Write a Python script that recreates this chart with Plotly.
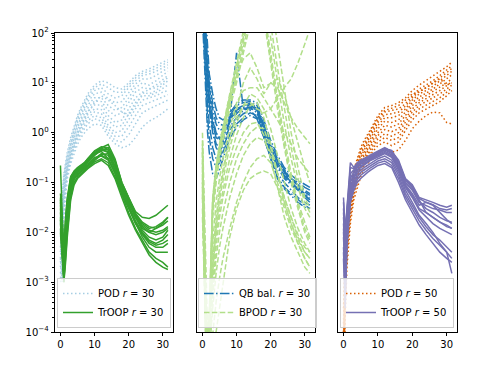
import plotly.graph_objects as go

# time samples shared by all trajectories
T = [0, 0.5, 1, 1.5, 2, 3, 4, 5, 6, 7, 8, 10, 12, 14, 16, 18, 20, 22, 24, 26, 28, 30, 31.5]

# panel 1: POD r=30 (dotted) and TrOOP r=30 (solid)
pod30 = [
    [2e-2, 6e-2, 0.15, 0.25, 0.4, 0.8, 1.4, 2.2, 3.2, 4.5, 6, 9, 11, 10, 8, 7.5, 10, 14, 17, 19, 22, 26, 29],
    [1e-2, 4e-2, 0.12, 0.2, 0.3, 0.6, 1.1, 1.8, 2.6, 3.6, 4.8, 7, 8, 6, 5, 5.5, 8, 11, 14, 15, 17, 20, 23],
    [5e-3, 2e-2, 0.08, 0.15, 0.25, 0.5, 0.9, 1.4, 2, 2.8, 3.6, 5, 5, 3.5, 2.8, 3.2, 5, 8, 10, 9, 11, 14, 17],
    [2.5e-3, 1.2e-2, 0.06, 0.12, 0.2, 0.4, 0.7, 1.1, 1.6, 2.1, 2.7, 3.6, 3.6, 2.2, 1.6, 1.8, 3, 5, 6.5, 6, 7, 9, 11],
    [1.5e-3, 3e-3, 0.04, 0.1, 0.17, 0.33, 0.55, 0.85, 1.2, 1.6, 2, 2.6, 2.4, 1.4, 1.0, 1.1, 1.8, 3, 4.5, 5, 5.5, 6.5, 7],
    [1e-3, 1.5e-3, 0.03, 0.08, 0.14, 0.28, 0.45, 0.7, 0.95, 1.2, 1.5, 1.9, 1.7, 1.0, 0.7, 0.65, 0.9, 1.5, 2.5, 3, 3.5, 4, 4.5],
    [3e-3, 1e-3, 0.02, 0.06, 0.12, 0.24, 0.38, 0.58, 0.8, 1.0, 1.2, 1.5, 1.4, 0.85, 0.6, 0.5, 0.55, 0.8, 1.3, 1.7, 2, 2.5, 3],
    [3e-3, 1e-2, 0.05, 0.1, 0.18, 0.35, 0.6, 0.95, 1.4, 1.9, 2.5, 4, 5.5, 4.5, 3.5, 2.6, 2.2, 3.5, 6, 7.5, 8, 10, 13],
    [8e-3, 3e-2, 0.1, 0.18, 0.28, 0.55, 1, 1.6, 2.3, 3.2, 4.2, 6, 6.5, 4.8, 4, 4.2, 6.5, 9.5, 12, 12, 14, 17, 20],
    [4e-3, 1.5e-2, 0.07, 0.13, 0.22, 0.45, 0.8, 1.25, 1.8, 2.4, 3.1, 4.3, 4.2, 2.8, 2.2, 2.5, 4, 6.5, 8, 7.5, 9, 11.5, 14],
    [2e-3, 6e-3, 0.05, 0.11, 0.19, 0.37, 0.62, 0.95, 1.35, 1.8, 2.3, 3, 2.9, 1.8, 1.3, 1.4, 2.4, 4, 5.5, 5.5, 6.3, 7.8, 9],
    [1.2e-3, 2e-3, 0.035, 0.09, 0.15, 0.3, 0.5, 0.78, 1.05, 1.4, 1.75, 2.2, 2, 1.2, 0.85, 0.85, 1.3, 2.2, 3.5, 4, 4.5, 5.2, 5.8],
    [1.5e-2, 5e-2, 0.13, 0.22, 0.35, 0.7, 1.25, 2, 2.9, 4, 5.4, 8, 9.5, 8, 6.5, 6.5, 9, 12.5, 15.5, 17, 19.5, 23, 26],
]
troop30 = [
    [0.22, 0.02, 3e-3, 0.02, 0.05, 0.13, 0.17, 0.2, 0.22, 0.25, 0.3, 0.42, 0.5, 0.58, 0.3, 0.1, 0.05, 0.026, 0.02, 0.019, 0.022, 0.028, 0.035],
    [0.03, 8e-3, 1.5e-3, 6e-3, 0.02, 0.08, 0.14, 0.17, 0.19, 0.21, 0.25, 0.35, 0.45, 0.42, 0.22, 0.08, 0.04, 0.02, 0.012, 0.01, 0.012, 0.015, 0.02],
    [0.02, 5e-3, 1e-3, 4e-3, 0.015, 0.06, 0.12, 0.15, 0.17, 0.19, 0.22, 0.3, 0.38, 0.35, 0.18, 0.07, 0.035, 0.017, 0.01, 0.007, 0.006, 0.007, 0.009],
    [0.05, 0.01, 2.5e-3, 0.01, 0.03, 0.1, 0.15, 0.18, 0.2, 0.22, 0.27, 0.38, 0.42, 0.3, 0.15, 0.06, 0.03, 0.015, 0.008, 0.005, 0.004, 0.004, 0.004],
    [0.012, 3e-3, 1.2e-3, 3e-3, 0.01, 0.05, 0.1, 0.13, 0.15, 0.17, 0.2, 0.26, 0.3, 0.25, 0.13, 0.055, 0.025, 0.012, 0.007, 0.004, 0.003, 0.0025, 0.002],
    [0.04, 0.015, 4e-3, 0.015, 0.04, 0.12, 0.16, 0.19, 0.21, 0.24, 0.29, 0.4, 0.48, 0.45, 0.25, 0.09, 0.045, 0.022, 0.014, 0.011, 0.01, 0.011, 0.013],
    [0.025, 6e-3, 2e-3, 8e-3, 0.025, 0.09, 0.13, 0.16, 0.18, 0.2, 0.23, 0.32, 0.34, 0.28, 0.16, 0.065, 0.03, 0.015, 0.009, 0.006, 0.005, 0.005, 0.006],
    [0.015, 4e-3, 1.5e-3, 5e-3, 0.018, 0.07, 0.12, 0.14, 0.16, 0.18, 0.21, 0.28, 0.36, 0.38, 0.2, 0.075, 0.038, 0.02, 0.011, 0.008, 0.007, 0.008, 0.011],
    [0.035, 0.012, 3e-3, 0.012, 0.035, 0.11, 0.155, 0.185, 0.205, 0.23, 0.28, 0.39, 0.46, 0.4, 0.2, 0.085, 0.042, 0.021, 0.013, 0.01, 0.009, 0.01, 0.012],
    [0.018, 4.5e-3, 1.2e-3, 4.5e-3, 0.016, 0.065, 0.115, 0.145, 0.165, 0.185, 0.215, 0.29, 0.35, 0.3, 0.17, 0.068, 0.032, 0.016, 0.0095, 0.0065, 0.0055, 0.006, 0.007],
    [0.045, 0.012, 2e-3, 0.009, 0.028, 0.095, 0.145, 0.175, 0.195, 0.215, 0.26, 0.36, 0.44, 0.5, 0.27, 0.095, 0.048, 0.024, 0.015, 0.012, 0.013, 0.016, 0.02],
    [0.01, 2.5e-3, 1e-3, 2.5e-3, 0.008, 0.045, 0.09, 0.12, 0.14, 0.16, 0.19, 0.24, 0.28, 0.22, 0.12, 0.05, 0.022, 0.011, 0.006, 0.0035, 0.0025, 0.002, 0.0018],
    [0.06, 0.018, 5e-3, 0.018, 0.045, 0.13, 0.165, 0.195, 0.215, 0.245, 0.3, 0.43, 0.52, 0.5, 0.28, 0.1, 0.05, 0.024, 0.016, 0.013, 0.012, 0.014, 0.017],
]

# panel 2: QB balanced r=30 (dash-dot) and BPOD r=30 (dashed)
qbbal30 = [
    [1000, 200, 50, 15, 6, 2, 1, 0.8, 1, 1.5, 2, 3, 3.5, 3.8, 3, 1.2, 0.5, 0.25, 0.15, 0.1, 0.08, 0.06, 0.05],
    [500, 100, 20, 6, 3, 1, 0.5, 0.4, 0.6, 0.9, 1.3, 2, 2.8, 3.2, 2.5, 1, 0.4, 0.2, 0.12, 0.09, 0.07, 0.05, 0.04],
    [2000, 400, 80, 25, 10, 4, 2, 1.5, 1.4, 1.6, 2.2, 3.5, 4, 4.2, 3.5, 1.5, 0.6, 0.3, 0.18, 0.12, 0.1, 0.08, 0.07],
    [300, 50, 8, 2, 0.8, 0.3, 0.2, 0.25, 0.4, 0.6, 0.9, 1.5, 2, 2.5, 2.2, 0.9, 0.35, 0.15, 0.1, 0.07, 0.05, 0.04, 0.035],
    [800, 150, 30, 10, 4, 1.5, 0.8, 0.7, 0.9, 1.3, 1.8, 40, 3, 3, 2.8, 1.1, 0.45, 0.22, 0.14, 0.1, 0.075, 0.055, 0.045],
    [1500, 300, 60, 20, 8, 3, 1.5, 1.1, 1.2, 1.5, 1.9, 2.6, 3, 3.3, 2.8, 1.3, 0.55, 0.28, 0.16, 0.11, 0.09, 0.07, 0.06],
    [400, 80, 15, 4, 1.5, 0.5, 0.3, 0.3, 0.5, 0.75, 1.1, 1.8, 2.4, 2.8, 2, 0.8, 0.3, 0.13, 0.08, 0.06, 0.045, 0.035, 0.03],
    [3000, 700, 150, 40, 15, 6, 3, 2, 1.8, 2, 2.5, 3.8, 4.5, 4.5, 4, 1.8, 0.7, 0.35, 0.2, 0.14, 0.11, 0.09, 0.08],
    [600, 120, 25, 8, 3.5, 1.2, 0.6, 0.5, 0.7, 1.1, 1.6, 2.4, 3.2, 3.6, 2.8, 1.1, 0.45, 0.22, 0.13, 0.095, 0.075, 0.055, 0.045],
    [1200, 250, 45, 12, 5, 1.8, 0.9, 0.75, 0.85, 1.2, 1.7, 2.8, 3.4, 3.9, 3.2, 1.4, 0.5, 0.27, 0.17, 0.12, 0.09, 0.065, 0.055],
    [200, 30, 4, 1, 0.4, 0.15, 0.12, 0.18, 0.3, 0.5, 0.75, 1.3, 1.8, 2.2, 1.9, 0.8, 0.3, 0.12, 0.075, 0.055, 0.04, 0.032, 0.03],
]
bpod30 = [
    [0.5, 0.01, 3e-4, 5e-5, 1e-4, 0.03, 0.15, 0.4, 0.9, 1.8, 4, 15, 60, 300, 800, 300, 40, 5, 0.8, 0.15, 0.04, 0.015, 0.008],
    [0.3, 5e-3, 1e-4, 3e-5, 6e-5, 0.02, 0.1, 0.3, 0.7, 1.4, 3, 10, 40, 150, 400, 200, 25, 3, 0.5, 0.1, 0.03, 0.01, 0.006],
    [1, 0.03, 8e-4, 1e-4, 2e-4, 0.05, 0.22, 0.6, 1.3, 2.6, 6, 25, 100, 500, 1000, 600, 80, 10, 1.5, 0.3, 0.08, 0.03, 0.02],
    [0.1, 2e-3, 5e-5, 2e-5, 6e-5, 1e-3, 8e-3, 0.03, 0.07, 0.15, 0.3, 0.9, 2, 3.5, 4, 2, 0.6, 0.15, 0.04, 0.015, 0.006, 0.003, 0.002],
    [0.05, 1e-3, 3e-5, 1e-5, 3e-5, 5e-4, 3e-3, 0.01, 0.025, 0.05, 0.1, 0.3, 0.6, 1, 1.3, 1.2, 0.5, 0.15, 0.05, 0.02, 0.008, 0.004, 0.003],
    [0.02, 5e-4, 1e-5, 5e-6, 1e-5, 6e-5, 1e-4, 3e-4, 1e-3, 3e-3, 8e-3, 0.03, 0.07, 0.12, 0.15, 0.17, 0.15, 0.08, 0.03, 0.012, 0.006, 0.003, 0.002],
    [0.2, 4e-3, 1e-4, 4e-5, 1.5e-4, 3e-3, 0.02, 0.07, 0.18, 0.4, 0.8, 2, 3.5, 4, 3, 2.5, 3, 5, 8, 12, 25, 60, 120],
    [0.4, 8e-3, 2e-4, 6e-5, 2.5e-4, 0.04, 0.2, 0.5, 1.1, 2.2, 4.5, 14, 30, 40, 20, 8, 10, 12, 6, 2, 0.6, 0.2, 0.1],
    [0.08, 1.5e-3, 4e-5, 1.5e-5, 4e-5, 7e-4, 5e-3, 0.02, 0.05, 0.1, 0.2, 0.5, 1, 1.5, 1.6, 0.9, 0.3, 0.08, 0.02, 0.008, 0.004, 0.002, 0.0015],
    [0.6, 0.015, 4e-4, 8e-5, 1.5e-4, 0.04, 0.18, 0.5, 1.1, 2.2, 5, 20, 80, 400, 1500, 2000, 500, 60, 8, 1, 0.2, 0.05, 0.03],
    [0.15, 3e-3, 8e-5, 3e-5, 1e-4, 2e-3, 0.015, 0.06, 0.15, 0.35, 0.7, 3, 10, 20, 12, 6, 10, 8, 4, 2, 1.2, 0.8, 0.6],
    [0.25, 6e-3, 1.5e-4, 5e-5, 1.2e-4, 6e-3, 0.04, 0.12, 0.3, 0.6, 1.2, 4, 7, 8, 8, 5, 3, 1.8, 1, 0.6, 0.3, 0.2, 0.15],
    [0.03, 8e-4, 2e-5, 8e-6, 2e-5, 1e-4, 4e-4, 1.2e-3, 3e-3, 6e-3, 0.012, 0.04, 0.1, 0.2, 0.3, 0.35, 0.25, 0.1, 0.04, 0.015, 0.007, 0.004, 0.003],
    [0.4, 0.012, 3.5e-4, 6e-5, 1.2e-4, 0.025, 0.12, 0.35, 0.8, 1.6, 3.5, 12, 50, 220, 600, 250, 30, 4, 0.6, 0.12, 0.035, 0.012, 0.007],
    [0.7, 0.02, 5e-4, 9e-5, 1.8e-4, 0.045, 0.2, 0.55, 1.2, 2.4, 5.5, 22, 90, 450, 1200, 900, 150, 20, 3, 0.5, 0.12, 0.04, 0.025],
    [0.12, 2.5e-3, 7e-5, 2.5e-5, 8e-5, 1.5e-3, 0.012, 0.045, 0.11, 0.25, 0.5, 1.5, 3.5, 6, 5, 3, 1.2, 0.35, 0.1, 0.03, 0.012, 0.006, 0.004],
    [0.06, 1.2e-3, 3.5e-5, 1.2e-5, 3.5e-5, 3e-4, 1.5e-3, 5e-3, 0.012, 0.025, 0.05, 0.15, 0.35, 0.6, 0.8, 0.7, 0.4, 0.15, 0.05, 0.02, 0.009, 0.005, 0.004],
]

# panel 3: POD r=50 (dotted) and TrOOP r=50 (solid)
pod50 = [
    [3e-4, 5e-3, 0.02, 0.045, 0.08, 0.18, 0.3, 0.5, 0.7, 0.95, 1.2, 2.2, 3.2, 3.5, 4, 5, 7, 9, 11, 13.5, 17, 21, 26],
    [1e-4, 3e-3, 0.015, 0.035, 0.06, 0.14, 0.25, 0.4, 0.55, 0.75, 1, 1.8, 2.6, 2.8, 3, 3.8, 5.5, 7.5, 9, 11, 14, 18, 22],
    [5e-5, 2e-3, 0.01, 0.025, 0.045, 0.11, 0.2, 0.32, 0.45, 0.6, 0.8, 1.4, 2, 2, 2.2, 3, 4.5, 6, 7, 8.5, 11, 14, 17],
    [2e-5, 1e-3, 7e-3, 0.018, 0.035, 0.09, 0.16, 0.25, 0.35, 0.48, 0.62, 1, 1.4, 1.3, 1.5, 2.2, 3.5, 4.5, 5.5, 6.5, 8, 10, 12],
    [1e-5, 6e-4, 5e-3, 0.013, 0.026, 0.07, 0.13, 0.2, 0.28, 0.38, 0.48, 0.75, 0.95, 0.85, 1, 1.6, 2.6, 3.5, 4.2, 5, 6, 7.5, 9],
    [5e-6, 4e-4, 3.5e-3, 0.01, 0.02, 0.055, 0.1, 0.16, 0.22, 0.3, 0.38, 0.55, 0.65, 0.55, 0.65, 1.1, 1.8, 2.5, 3, 3.6, 4.2, 5.5, 7],
    [3e-6, 2e-4, 2e-3, 7e-3, 0.015, 0.045, 0.08, 0.13, 0.18, 0.24, 0.3, 0.42, 0.48, 0.4, 0.45, 0.7, 1.2, 1.7, 2.2, 2.6, 2.5, 1.6, 1.5],
    [1.5e-4, 4e-3, 0.018, 0.04, 0.07, 0.16, 0.28, 0.45, 0.62, 0.85, 1.1, 2, 2.8, 3.1, 3.5, 4.5, 6, 6.5, 8, 10, 12, 9, 10],
    [8e-5, 2.5e-3, 0.012, 0.03, 0.052, 0.125, 0.22, 0.36, 0.5, 0.68, 0.9, 1.6, 2.3, 2.4, 2.6, 3.4, 5, 6.8, 8, 9.8, 12.5, 16, 19.5],
    [3e-5, 1.4e-3, 8.5e-3, 0.021, 0.04, 0.1, 0.18, 0.28, 0.4, 0.54, 0.7, 1.2, 1.7, 1.6, 1.8, 2.6, 4, 5.2, 6.2, 7.5, 9.5, 12, 14.5],
    [1.5e-5, 8e-4, 6e-3, 0.015, 0.03, 0.08, 0.145, 0.22, 0.31, 0.43, 0.55, 0.88, 1.15, 1.05, 1.2, 1.9, 3, 4, 4.8, 5.7, 7, 8.8, 10.5],
    [7e-6, 5e-4, 4e-3, 0.011, 0.023, 0.062, 0.115, 0.18, 0.25, 0.34, 0.43, 0.65, 0.8, 0.7, 0.8, 1.3, 2.2, 3, 3.6, 4.3, 5, 6.5, 8],
]
troop50 = [
    [0.05, 0.01, 0.03, 0.1, 0.25, 0.2, 0.25, 0.28, 0.3, 0.33, 0.36, 0.42, 0.5, 0.42, 0.28, 0.12, 0.09, 0.05, 0.045, 0.04, 0.035, 0.032, 0.035],
    [0.02, 5e-3, 0.02, 0.05, 0.1, 0.15, 0.2, 0.23, 0.26, 0.29, 0.32, 0.38, 0.45, 0.38, 0.22, 0.1, 0.07, 0.04, 0.035, 0.03, 0.028, 0.025, 0.025],
    [0.01, 2e-3, 0.012, 0.035, 0.07, 0.12, 0.17, 0.2, 0.22, 0.25, 0.28, 0.33, 0.38, 0.32, 0.18, 0.08, 0.05, 0.028, 0.02, 0.015, 0.012, 0.01, 0.009],
    [5e-3, 1e-3, 8e-3, 0.025, 0.05, 0.09, 0.13, 0.16, 0.18, 0.2, 0.22, 0.27, 0.3, 0.25, 0.14, 0.06, 0.035, 0.02, 0.013, 0.009, 0.007, 0.005, 0.004],
    [3e-3, 3e-4, 5e-3, 0.018, 0.04, 0.07, 0.1, 0.12, 0.14, 0.16, 0.18, 0.22, 0.24, 0.2, 0.1, 0.045, 0.025, 0.014, 0.009, 0.006, 0.004, 0.003, 0.0025],
    [0.015, 3e-3, 0.015, 0.04, 0.08, 0.13, 0.18, 0.21, 0.24, 0.27, 0.3, 0.36, 0.42, 0.36, 0.2, 0.09, 0.06, 0.035, 0.04, 0.035, 0.025, 0.018, 0.015],
    [8e-3, 1.5e-3, 0.01, 0.03, 0.06, 0.1, 0.15, 0.18, 0.2, 0.22, 0.25, 0.3, 0.34, 0.28, 0.16, 0.07, 0.04, 0.022, 0.015, 0.01, 0.006, 0.004, 0.0015],
    [0.03, 8e-3, 0.025, 0.07, 0.15, 0.18, 0.22, 0.25, 0.28, 0.3, 0.33, 0.4, 0.47, 0.44, 0.25, 0.11, 0.08, 0.045, 0.025, 0.02, 0.016, 0.014, 0.012],
    [0.04, 9e-3, 0.028, 0.085, 0.2, 0.19, 0.235, 0.265, 0.29, 0.315, 0.345, 0.41, 0.48, 0.43, 0.26, 0.115, 0.085, 0.048, 0.04, 0.036, 0.03, 0.028, 0.03],
    [0.012, 2.5e-3, 0.014, 0.038, 0.075, 0.125, 0.175, 0.205, 0.23, 0.26, 0.29, 0.345, 0.4, 0.34, 0.19, 0.085, 0.055, 0.03, 0.025, 0.02, 0.016, 0.013, 0.012],
    [4e-3, 6e-4, 6.5e-3, 0.021, 0.045, 0.08, 0.115, 0.14, 0.16, 0.18, 0.2, 0.245, 0.27, 0.22, 0.12, 0.052, 0.03, 0.017, 0.011, 0.0075, 0.0055, 0.004, 0.003],
    [0.025, 6e-3, 0.022, 0.06, 0.12, 0.165, 0.21, 0.24, 0.27, 0.295, 0.32, 0.39, 0.46, 0.4, 0.23, 0.1, 0.075, 0.042, 0.03, 0.025, 0.02, 0.017, 0.016],
]

DOT = "1.5px,2.5px"
DASH = "5.5px,2.4px"
DASHDOT = "9.6px,2.4px,1.5px,2.4px"

fig = go.Figure()


def add_family(curves, name, color, dash, ax, legend):
    for i, y in enumerate(curves):
        fig.add_trace(go.Scatter(
            x=T, y=y, mode="lines", name=name, legendgroup=name,
            showlegend=(i == 0), legend=legend,
            line=dict(color=color, width=1.5, dash=dash),
            xaxis="x" + ax, yaxis="y" + ax,
        ))


add_family(pod30, "POD <i>r</i> = 30", "#a6cee3", DOT, "", "legend")
add_family(troop30, "TrOOP <i>r</i> = 30", "#33a02c", "solid", "", "legend")
add_family(qbbal30, "QB bal. <i>r</i> = 30", "#1f78b4", DASHDOT, "2", "legend2")
add_family(bpod30, "BPOD <i>r</i> = 30", "#b2df8a", DASH, "2", "legend2")
add_family(pod50, "POD <i>r</i> = 50", "#d95f02", DOT, "3", "legend3")
add_family(troop50, "TrOOP <i>r</i> = 50", "#7570b3", "solid", "3", "legend3")

W, H = 491, 366
L, R, TOP, B = 55, 34, 33, 34
pw = W - L - R
doms = [(55, 173), (197, 315), (338, 457)]

font = dict(family="DejaVu Sans", size=10, color="black")
xcommon = dict(range=[-1.6, 33], tickvals=[0, 10, 20, 30], ticks="outside",
               ticklen=3.5, tickwidth=0.8, tickcolor="black", showline=True,
               mirror=True, linecolor="black", linewidth=0.8, showgrid=False,
               zeroline=False, tickfont=font)
ycommon = dict(type="log", range=[-4, 2], showline=True, mirror=True,
               linecolor="black", linewidth=0.8, showgrid=False, zeroline=False)

major = [1e-4, 1e-3, 1e-2, 1e-1, 1, 10, 100]
labels = ["10<sup>−4</sup>", "10<sup>−3</sup>", "10<sup>−2</sup>", "10<sup>−1</sup>",
          "10<sup>0</sup>", "10<sup>1</sup>", "10<sup>2</sup>"]
minor_vals = [m * d for d in [1e-4, 1e-3, 1e-2, 1e-1, 1, 10] for m in range(2, 10)]

layout = dict(
    width=W, height=H, margin=dict(l=L, r=R, t=TOP, b=B),
    paper_bgcolor="white", plot_bgcolor="white", font=font,
)
for k, (a, b) in enumerate(doms):
    sx = "" if k == 0 else str(k + 1)
    layout["xaxis" + sx] = dict(xcommon, domain=[(a - L) / pw, (b - L) / pw], anchor="y" + sx)
    if k == 0:
        layout["yaxis"] = dict(ycommon, tickmode="array", tickvals=major, ticktext=labels,
                               ticks="outside", ticklen=3.5, tickwidth=0.8, tickcolor="black",
                               tickfont=font, anchor="x",
                               minor=dict(tickmode="array", tickvals=minor_vals, ticks="outside",
                                          ticklen=2, tickwidth=0.6, tickcolor="black"))
    else:
        layout["yaxis" + sx] = dict(ycommon, showticklabels=False, ticks="", anchor="x" + sx,
                                    matches="y")

leg = dict(bgcolor="rgba(255,255,255,0.8)", bordercolor="#cccccc", borderwidth=1,
           font=font, xanchor="left", yanchor="bottom", y=(332 - 328) / 299,
           tracegroupgap=0, itemwidth=30)
layout["legend"] = dict(leg, x=(57 - L) / pw)
layout["legend2"] = dict(leg, x=(198 - L) / pw)
layout["legend3"] = dict(leg, x=(340 - L) / pw)

fig.update_layout(**layout)
# the page body has a default 8px margin; drop it so the figure sits at the corner
fig.write_html("out.html", config={"displayModeBar": False},
               post_script="document.body.style.margin='0px';")
